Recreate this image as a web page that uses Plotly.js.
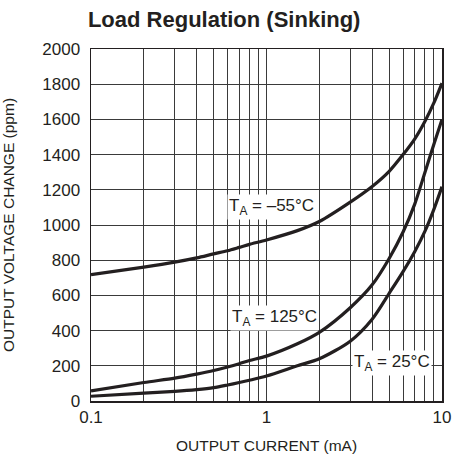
<!DOCTYPE html>
<html>
<head>
<meta charset="utf-8">
<script src="https://cdn.plot.ly/plotly-3.0.1.min.js"></script>
<style>
  html, body { margin: 0; padding: 0; background: #fff; }
  #chart { width: 452px; height: 454px; }
</style>
</head>
<body>
<div id="chart"></div>
<script>
// Output current (mA)
var currentMA = [0.1, 0.2, 0.3, 0.4, 0.5, 0.6, 0.7, 0.8, 1, 1.5, 2, 3, 4, 5, 6, 7, 8, 9, 10];
// Output voltage change (ppm)
var tMinus55 = [718, 761, 789, 813, 836, 854, 873, 890, 915, 968, 1020, 1130, 1219, 1305, 1400, 1490, 1590, 1695, 1806];
var t125 = [57, 105, 130, 153, 173, 193, 212, 230, 255, 325, 390, 530, 660, 810, 960, 1120, 1300, 1460, 1600];
var t25 = [27, 45, 55, 65, 76, 91, 105, 118, 142, 200, 240, 340, 465, 612, 735, 850, 965, 1090, 1218];

var xTickVals = [0.1, 1, 10];
var xTickText = ["0.1", "1", "10"];
var xMinorVals = [0.2, 0.3, 0.4, 0.5, 0.6, 0.7, 0.8, 0.9, 2, 3, 4, 5, 6, 7, 8, 9];
var yTickVals = [0, 200, 400, 600, 800, 1000, 1200, 1400, 1600, 1800, 2000];

var curveLabels = ["T<sub>A</sub> = \u201355\u00b0C", "T<sub>A</sub> = 125\u00b0C", "T<sub>A</sub> = 25\u00b0C"];
var labelX = [1.07, 1.11, 5.2];
var labelY = [1100, 470, 216];

var FONT = "'Liberation Sans', Arial, sans-serif";
var INK = "#231f20";

function curve(y) {
  return {
    x: currentMA, y: y, type: "scatter", mode: "lines",
    line: { color: INK, width: 3.2, shape: "spline", smoothing: 0.8 },
    hoverinfo: "skip", showlegend: false
  };
}

var data = [curve(tMinus55), curve(t125), curve(t25)];

var annotations = curveLabels.map(function (t, i) {
  return {
    x: Math.log10(labelX[i]), y: labelY[i], xref: "x", yref: "y",
    text: t, showarrow: false, bgcolor: "#ffffff", borderpad: 1,
    font: { family: FONT, size: 17, color: INK }
  };
});

var layout = {
  width: 452, height: 454,
  margin: { l: 91, r: 10, t: 49, b: 53 },
  paper_bgcolor: "#ffffff", plot_bgcolor: "#ffffff",
  title: {
    text: "<b>Load Regulation (Sinking)</b>",
    font: { family: FONT, size: 22, color: INK },
    x: 0.496, xanchor: "center", y: 0.957, yanchor: "middle"
  },
  xaxis: {
    type: "log", range: [-1, 1],
    tickvals: xTickVals, ticktext: xTickText, ticks: "", ticklen: 0,
    showgrid: true, gridcolor: "#3a3a3a", gridwidth: 1,
    minor: { tickvals: xMinorVals, showgrid: true, gridcolor: "#3a3a3a", gridwidth: 1, ticks: "" },
    showline: true, linecolor: INK, linewidth: 1.5, mirror: true,
    zeroline: false, ticklabelstandoff: 0,
    tickfont: { family: FONT, size: 17, color: INK },
    title: { text: "OUTPUT CURRENT (mA)", font: { family: FONT, size: 15.5, color: INK }, standoff: 16 }
  },
  yaxis: {
    range: [0, 2000], tickvals: yTickVals, ticks: "",
    showgrid: true, gridcolor: "#3a3a3a", gridwidth: 1,
    showline: true, linecolor: INK, linewidth: 1.5, mirror: true,
    zeroline: false, ticklabelstandoff: 6,
    tickfont: { family: FONT, size: 17, color: INK },
    title: { text: "OUTPUT VOLTAGE CHANGE (ppm)", font: { family: FONT, size: 15.5, color: INK }, standoff: 24 }
  },
  annotations: annotations
};

Plotly.newPlot("chart", data, layout, { displayModeBar: false, staticPlot: true });
</script>
</body>
</html>
